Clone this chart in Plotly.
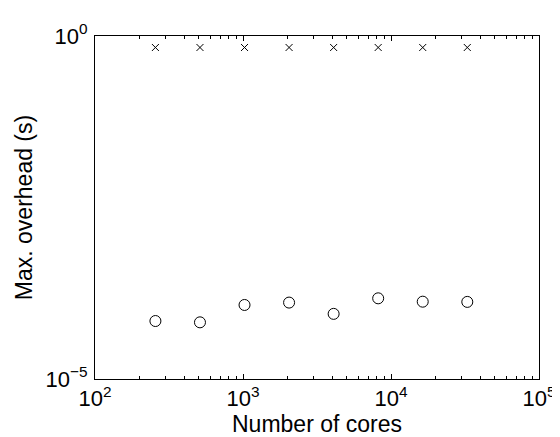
import plotly.graph_objects as go

cores = [256, 512, 1024, 2048, 4096, 8192, 16384, 32768]
overhead_x = [0.68, 0.68, 0.68, 0.68, 0.68, 0.68, 0.68, 0.68]
overhead_o = [7.0e-5, 6.7e-5, 1.2e-4, 1.3e-4, 8.9e-5, 1.5e-4, 1.34e-4, 1.33e-4]

x_ticks = [1e2, 1e3, 1e4, 1e5]
x_ticktext = ["10<sup>2</sup>", "10<sup>3</sup>", "10<sup>4</sup>", "10<sup>5</sup>"]
x_minor = [m * 10 ** e for e in (2, 3, 4) for m in range(2, 10)]
y_ticks = [1e-5, 1e0]
y_ticktext = ["10<sup>\u22125</sup>", "10<sup>0</sup>"]

FONT = "Liberation Sans, Arial, Helvetica, sans-serif"

fig = go.Figure()
fig.add_trace(go.Scatter(
    x=cores, y=overhead_x, mode="markers",
    marker=dict(symbol="x-thin", size=7, line=dict(color="black", width=1), color="black"),
    showlegend=False,
))
fig.add_trace(go.Scatter(
    x=cores, y=overhead_o, mode="markers",
    marker=dict(symbol="circle-open", size=11, line=dict(color="black", width=1), color="black"),
    showlegend=False,
))

fig.update_layout(
    width=560, height=437,
    margin=dict(l=87, r=22, t=23, b=66),
    paper_bgcolor="white", plot_bgcolor="white",
    font=dict(family=FONT, size=22, color="black"),
)
fig.update_xaxes(
    type="log", range=[2, 5],
    tickvals=x_ticks, ticktext=x_ticktext,
    ticks="inside", ticklen=5, tickcolor="black", tickwidth=1,
    minor=dict(tickvals=x_minor, ticks="inside", ticklen=3, tickcolor="black", tickwidth=1),
    showline=True, linecolor="black", linewidth=1, mirror="allticks",
    showgrid=False, zeroline=False,
    tickfont=dict(size=22), ticklabelstandoff=0,
    title=dict(text="Number of cores", font=dict(size=23), standoff=0),
)
fig.update_yaxes(
    type="log", range=[-5, 0],
    tickvals=y_ticks, ticktext=y_ticktext,
    ticks="inside", ticklen=5, tickcolor="black",
    showline=True, linecolor="black", linewidth=1, mirror="allticks",
    showgrid=False, zeroline=False,
    tickfont=dict(size=22), ticklabelstandoff=2,
    title=dict(text="Max. overhead (s)", font=dict(size=23), standoff=6),
)

fig.write_html("out.html")
